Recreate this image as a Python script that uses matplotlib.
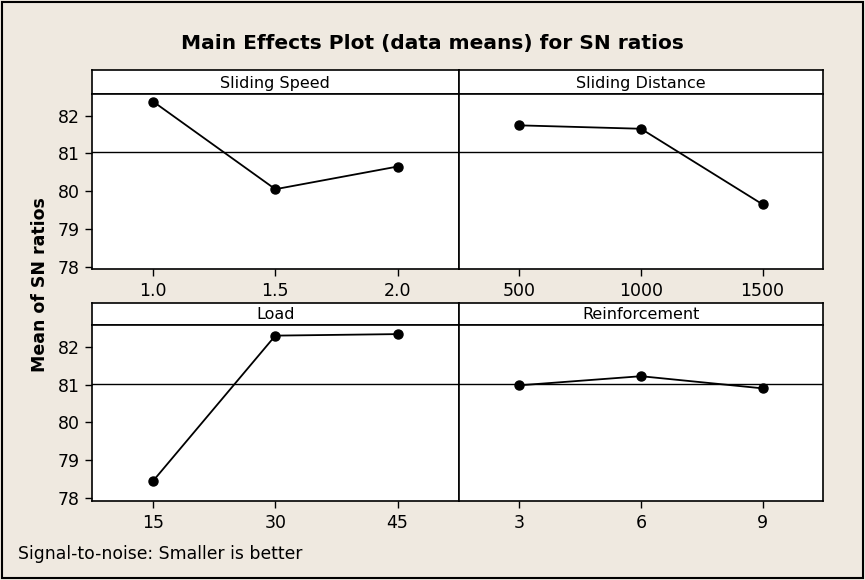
import numpy as np
import matplotlib
matplotlib.use("Agg")
import matplotlib.pyplot as plt
from matplotlib.patches import Rectangle

# main effect means (SN ratios)
factors = ["Sliding Speed", "Sliding Distance", "Load", "Reinforcement"]
speed_levels = ["1.0", "1.5", "2.0"]
speed_sn = [82.37, 80.05, 80.65]
distance_levels = ["500", "1000", "1500"]
distance_sn = [81.74, 81.65, 79.65]
load_levels = ["15", "30", "45"]
load_sn = [78.46, 82.29, 82.33]
reinf_levels = ["3", "6", "9"]
reinf_sn = [80.98, 81.22, 80.90]
y_ticks = [78, 79, 80, 81, 82]

levels = [speed_levels, distance_levels, load_levels, reinf_levels]
means = [speed_sn, distance_sn, load_sn, reinf_sn]
grand_mean = np.mean([np.mean(m) for m in means])

W, H = 865, 580
BG = "#efe9e0"
fig = plt.figure(figsize=(W / 100, H / 100), dpi=100, facecolor=BG)

def px_axes(l, t, r, b):
    return fig.add_axes([l / W, 1 - b / H, (r - l) / W, (b - t) / H])

cols = [(92, 458.7), (458.7, 823.3)]
rows = [(70, 94, 269.3), (302.7, 325, 501)]

for i, name in enumerate(factors):
    r, c = divmod(i, 2)
    l, rr = cols[c]
    st, pt, pb = rows[r]

    # strip with the factor name
    sax = px_axes(l, st, rr, pt)
    sax.set_xticks([])
    sax.set_yticks([])
    sax.set_facecolor("white")
    for s in sax.spines.values():
        s.set_linewidth(1.2)
    sax.text(0.5, 0.45, name, ha="center", va="center", fontsize=11.5,
             transform=sax.transAxes)

    ax = px_axes(l, pt, rr, pb)
    ax.set_facecolor("white")
    x = np.arange(len(levels[i]))
    ax.axhline(grand_mean, color="black", lw=1.0)
    ax.plot(x, means[i], color="black", lw=1.3, marker="o", ms=6.5)
    ax.set_xlim(-0.5, 2.5)
    ax.set_ylim(77.93, 82.57)
    ax.set_xticks(x)
    ax.set_xticklabels(levels[i], fontsize=12.5)
    ax.set_yticks(y_ticks)
    if c == 0:
        ax.set_yticklabels([str(v) for v in y_ticks], fontsize=12.5)
    else:
        ax.tick_params(axis="y", left=False, labelleft=False)
    ax.tick_params(direction="out", length=5, width=1, pad=4)
    for s in ax.spines.values():
        s.set_linewidth(1.2)

fig.text(432 / W, 1 - 43 / H, "Main Effects Plot (data means) for SN ratios",
         ha="center", va="center", fontsize=14.5, fontweight="bold")
fig.text(40 / W, 1 - 285 / H, "Mean of SN ratios", rotation=90,
         ha="center", va="center", fontsize=12.5, fontweight="bold")
fig.text(18 / W, 1 - 554 / H, "Signal-to-noise: Smaller is better",
         ha="left", va="center", fontsize=12.4)

fig.patches.append(Rectangle((0.002, 0.003), 0.996, 0.994, transform=fig.transFigure,
                             fill=False, edgecolor="black", lw=1.5))

fig.savefig("out.png", dpi=100, facecolor=BG)
